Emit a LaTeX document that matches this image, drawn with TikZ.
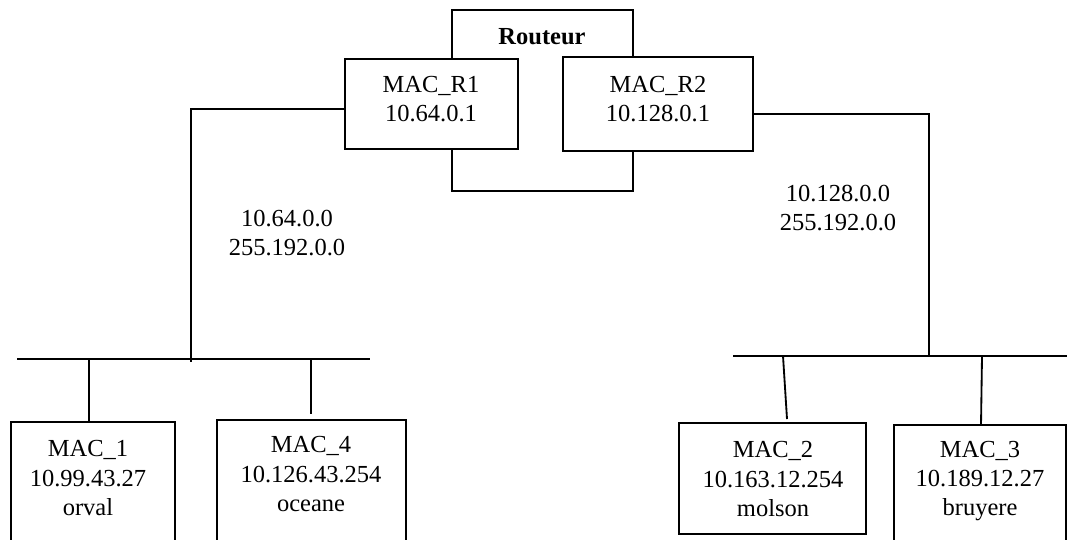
\documentclass[tikz,border=0pt]{standalone}
\usepackage{fontspec}
\setmainfont{Liberation Serif}
\usetikzlibrary{fit}
\begin{document}
\begin{tikzpicture}[x=0.49pt,y=-0.49pt,
  box/.style={draw, fill=white, inner sep=0pt, line width=0.9pt},
  txt/.style={align=center, inner sep=0pt, font=\fontsize{12}{14.4}\selectfont},
  wire/.style={line width=0.9pt}]
\useasboundingbox (0,0) rectangle (1067,539);
\clip (0,0) rectangle (1067,539);
% router
\node[box, fit={(452,10) (633,191)}] (rt) {};
\node[txt, font=\fontsize{12}{14.4}\selectfont\bfseries] (rtl) at (542,37) {Routeur};
\node[box, fit={(345,59) (518,149)}] (r1) {};
\node[txt] (r1t) at (431,99) {MAC\_R1\\10.64.0.1};
\node[box, fit={(563,57) (753,151)}] (r2) {};
\node[txt] (r2t) at (658,99) {MAC\_R2\\10.128.0.1};
% left network
\coordinate (cL) at (191,109);
\coordinate (lbA) at (17,359);
\coordinate (lbB) at (370,359);
\draw[wire] (lbA) -- (lbB);
\draw[wire] (r1.west |- cL) -- (cL) -- (cL |- lbA) -- ++(0,3);
\node[txt] (nl) at (287,233) {10.64.0.0\\255.192.0.0};
\node[box, fit={(11,422) (175,560)}] (m1) {};
\node[txt] (m1t) at (88,478) {MAC\_1\\10.99.43.27\\orval};
\node[box, fit={(217,420) (406,560)}] (m4) {};
\node[txt] (m4t) at (311,474) {MAC\_4\\10.126.43.254\\oceane};
\coordinate (d1) at (89,359);
\coordinate (d4) at (311,359);
\coordinate (d4e) at (311,414);
\draw[wire] (d1) -- (d1 |- m1.north);
\draw[wire] (d4) -- (d4e);
% right network
\coordinate (cR) at (929,114);
\coordinate (rbA) at (733,356);
\coordinate (rbB) at (1067,356);
\draw[wire] (rbA) -- (rbB);
\draw[wire] (r2.east |- cR) -- (cR) -- (cR |- rbA);
\node[txt] (nr) at (838,208) {10.128.0.0\\255.192.0.0};
\node[box, fit={(679,423) (866,534)}] (m2) {};
\node[txt] (m2t) at (773,479) {MAC\_2\\10.163.12.254\\molson};
\node[box, fit={(894,425) (1066,560)}] (m3) {};
\node[txt] (m3t) at (980,481) {MAC\_3\\10.189.12.27\\bruyere};
\coordinate (d2) at (783,356);
\coordinate (d2e) at (787,419);
\coordinate (d3) at (982,356);
\coordinate (d3e) at (981,425);
\draw[wire] (d2) -- (d2e);
\draw[wire] (d3) -- (d3e);
\end{tikzpicture}
\end{document}
